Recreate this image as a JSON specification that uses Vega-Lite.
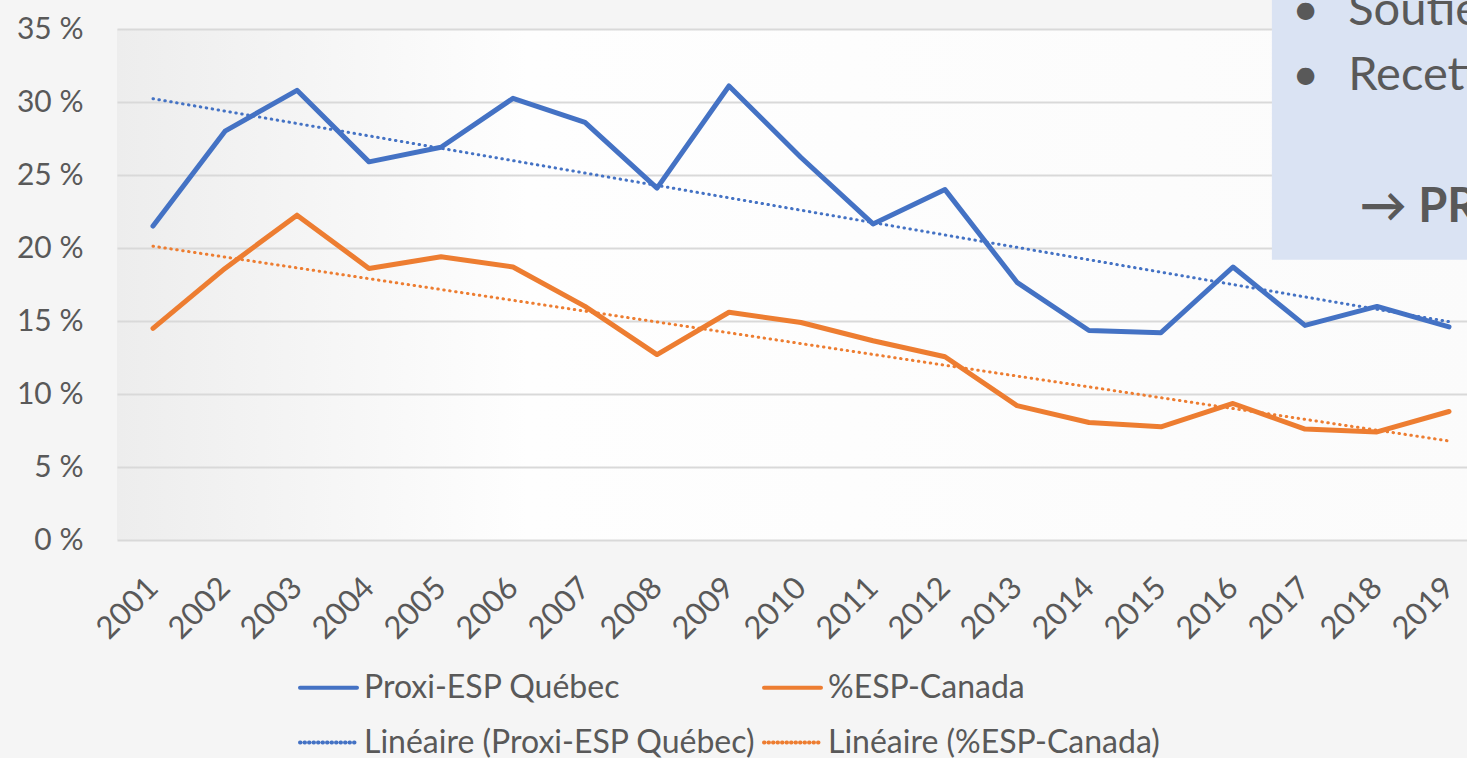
{
  "$schema": "https://vega.github.io/schema/vega-lite/v6.json",
  "width": 1368,
  "height": 511,
  "autosize": {"type": "none"},
  "padding": {"left": 117, "top": 29, "right": 0, "bottom": 218},
  "background": "#f5f5f5",
  "config": {
    "font": "Lato",
    "view": {
      "stroke": null,
      "fill": {"gradient": "linear", "x1": 0, "y1": 0, "x2": 1, "y2": 0, "stops": [{"offset": 0, "color": "#ededed"}, {"offset": 0.3, "color": "#fefefe"}, {"offset": 1, "color": "#fbfbfb"}]}
    }
  },
  "datasets": {
    "series": [
      {"year": 2001, "series": "Proxi-ESP Québec", "trend": "Linéaire (Proxi-ESP Québec)", "value": 21.5},
      {"year": 2002, "series": "Proxi-ESP Québec", "trend": "Linéaire (Proxi-ESP Québec)", "value": 28.0},
      {"year": 2003, "series": "Proxi-ESP Québec", "trend": "Linéaire (Proxi-ESP Québec)", "value": 30.8},
      {"year": 2004, "series": "Proxi-ESP Québec", "trend": "Linéaire (Proxi-ESP Québec)", "value": 25.9},
      {"year": 2005, "series": "Proxi-ESP Québec", "trend": "Linéaire (Proxi-ESP Québec)", "value": 26.9},
      {"year": 2006, "series": "Proxi-ESP Québec", "trend": "Linéaire (Proxi-ESP Québec)", "value": 30.25},
      {"year": 2007, "series": "Proxi-ESP Québec", "trend": "Linéaire (Proxi-ESP Québec)", "value": 28.6},
      {"year": 2008, "series": "Proxi-ESP Québec", "trend": "Linéaire (Proxi-ESP Québec)", "value": 24.1},
      {"year": 2009, "series": "Proxi-ESP Québec", "trend": "Linéaire (Proxi-ESP Québec)", "value": 31.1},
      {"year": 2010, "series": "Proxi-ESP Québec", "trend": "Linéaire (Proxi-ESP Québec)", "value": 26.2},
      {"year": 2011, "series": "Proxi-ESP Québec", "trend": "Linéaire (Proxi-ESP Québec)", "value": 21.65},
      {"year": 2012, "series": "Proxi-ESP Québec", "trend": "Linéaire (Proxi-ESP Québec)", "value": 24.0},
      {"year": 2013, "series": "Proxi-ESP Québec", "trend": "Linéaire (Proxi-ESP Québec)", "value": 17.65},
      {"year": 2014, "series": "Proxi-ESP Québec", "trend": "Linéaire (Proxi-ESP Québec)", "value": 14.35},
      {"year": 2015, "series": "Proxi-ESP Québec", "trend": "Linéaire (Proxi-ESP Québec)", "value": 14.2},
      {"year": 2016, "series": "Proxi-ESP Québec", "trend": "Linéaire (Proxi-ESP Québec)", "value": 18.7},
      {"year": 2017, "series": "Proxi-ESP Québec", "trend": "Linéaire (Proxi-ESP Québec)", "value": 14.7},
      {"year": 2018, "series": "Proxi-ESP Québec", "trend": "Linéaire (Proxi-ESP Québec)", "value": 16.0},
      {"year": 2019, "series": "Proxi-ESP Québec", "trend": "Linéaire (Proxi-ESP Québec)", "value": 14.6},
      {"year": 2001, "series": "%ESP-Canada", "trend": "Linéaire (%ESP-Canada)", "value": 14.5},
      {"year": 2002, "series": "%ESP-Canada", "trend": "Linéaire (%ESP-Canada)", "value": 18.6},
      {"year": 2003, "series": "%ESP-Canada", "trend": "Linéaire (%ESP-Canada)", "value": 22.25},
      {"year": 2004, "series": "%ESP-Canada", "trend": "Linéaire (%ESP-Canada)", "value": 18.6},
      {"year": 2005, "series": "%ESP-Canada", "trend": "Linéaire (%ESP-Canada)", "value": 19.4},
      {"year": 2006, "series": "%ESP-Canada", "trend": "Linéaire (%ESP-Canada)", "value": 18.7},
      {"year": 2007, "series": "%ESP-Canada", "trend": "Linéaire (%ESP-Canada)", "value": 16.0},
      {"year": 2008, "series": "%ESP-Canada", "trend": "Linéaire (%ESP-Canada)", "value": 12.7},
      {"year": 2009, "series": "%ESP-Canada", "trend": "Linéaire (%ESP-Canada)", "value": 15.6},
      {"year": 2010, "series": "%ESP-Canada", "trend": "Linéaire (%ESP-Canada)", "value": 14.9},
      {"year": 2011, "series": "%ESP-Canada", "trend": "Linéaire (%ESP-Canada)", "value": 13.65},
      {"year": 2012, "series": "%ESP-Canada", "trend": "Linéaire (%ESP-Canada)", "value": 12.55},
      {"year": 2013, "series": "%ESP-Canada", "trend": "Linéaire (%ESP-Canada)", "value": 9.2},
      {"year": 2014, "series": "%ESP-Canada", "trend": "Linéaire (%ESP-Canada)", "value": 8.05},
      {"year": 2015, "series": "%ESP-Canada", "trend": "Linéaire (%ESP-Canada)", "value": 7.75},
      {"year": 2016, "series": "%ESP-Canada", "trend": "Linéaire (%ESP-Canada)", "value": 9.35},
      {"year": 2017, "series": "%ESP-Canada", "trend": "Linéaire (%ESP-Canada)", "value": 7.6},
      {"year": 2018, "series": "%ESP-Canada", "trend": "Linéaire (%ESP-Canada)", "value": 7.4},
      {"year": 2019, "series": "%ESP-Canada", "trend": "Linéaire (%ESP-Canada)", "value": 8.8}
    ],
    "box": [{"x1": 2016.54, "x2": 2021, "y1": 19.2, "y2": 37.5}],
    "notes": [
      {"year": 2016.82, "value": 35.27, "label": "•"},
      {"year": 2017.6, "value": 35.27, "label": "Soutien"},
      {"year": 2016.82, "value": 30.82, "label": "•"},
      {"year": 2017.6, "value": 30.82, "label": "Recettes"}
    ],
    "emph": [
      {"year": 2017.76, "value": 21.78, "label": "→ PR"}
    ]
  },
  "layer": [
    {
      "data": {"name": "series"},
      "mark": {"type": "line", "strokeWidth": 5, "strokeJoin": "round", "strokeCap": "round"},
      "encoding": {
        "x": {
          "field": "year", "type": "quantitative", "title": null,
          "scale": {"domain": [2000.5, 2019.5], "nice": false, "zero": false},
          "axis": {"values": [2001, 2002, 2003, 2004, 2005, 2006, 2007, 2008, 2009, 2010, 2011, 2012, 2013, 2014, 2015, 2016, 2017, 2018, 2019], "format": "d", "labelAngle": -45, "labelAlign": "right", "labelBaseline": "middle", "labelPadding": 43, "ticks": false, "domain": false, "grid": false, "title": null, "labelFontSize": 31, "labelColor": "#595959", "labelFont": "Lato", "labelFlush": false, "labelOverlap": false, "labelBound": false}
        },
        "y": {
          "field": "value", "type": "quantitative", "title": null,
          "scale": {"domain": [0, 35], "nice": false},
          "axis": {"values": [0, 5, 10, 15, 20, 25, 30, 35], "labelExpr": "datum.value + ' %'", "title": null, "domain": false, "ticks": false, "labelPadding": 34, "labelFontSize": 30, "labelColor": "#595959", "labelFont": "Lato", "gridColor": "#d9d9d9", "gridWidth": 2}
        },
        "color": {
          "field": "series", "type": "nominal", "title": null,
          "scale": {"domain": ["Proxi-ESP Québec", "Linéaire (Proxi-ESP Québec)", "%ESP-Canada", "Linéaire (%ESP-Canada)"], "range": ["#4472c4", "#4472c4", "#ed7d31", "#ed7d31"]},
          "legend": {"title": null, "orient": "none", "legendX": 181, "legendY": 628, "columns": 2, "symbolType": "stroke", "symbolSize": 3249, "symbolStrokeWidth": 4, "labelFont": "Lato", "labelFontSize": 32, "labelColor": "#595959", "labelOffset": 5, "columnPadding": 0, "rowPadding": 8, "labelLimit": 0,
            "encode": {"symbols": {"update": {"strokeDash": {"signal": "indexof(datum.value, 'Lin') == 0 ? [0.5, 4] : [1, 0]"}, "strokeCap": {"value": "round"}}}}}
        }
      }
    },
    {
      "data": {"name": "series"},
      "transform": [{"regression": "value", "on": "year", "groupby": ["trend"], "extent": [2001, 2019]}],
      "mark": {"type": "line", "strokeWidth": 3, "strokeDash": [0.5, 5.5], "strokeCap": "round"},
      "encoding": {
        "x": {"field": "year", "type": "quantitative", "title": null},
        "y": {"field": "value", "type": "quantitative", "title": null},
        "color": {"field": "trend", "type": "nominal", "title": null}
      }
    },
    {
      "data": {"name": "box"},
      "mark": {"type": "rect", "fill": "#dae3f3", "clip": false},
      "encoding": {
        "x": {"field": "x1", "type": "quantitative", "title": null},
        "x2": {"field": "x2"},
        "y": {"field": "y1", "type": "quantitative", "title": null},
        "y2": {"field": "y2"}
      }
    },
    {
      "data": {"name": "notes"},
      "mark": {"type": "text", "align": "left", "baseline": "alphabetic", "fontSize": 47, "color": "#595959", "font": "Lato"},
      "encoding": {
        "x": {"field": "year", "type": "quantitative", "title": null},
        "y": {"field": "value", "type": "quantitative", "title": null},
        "text": {"field": "label"}
      }
    },
    {
      "data": {"name": "emph"},
      "mark": {"type": "text", "align": "left", "baseline": "alphabetic", "fontSize": 47, "fontWeight": "bold", "color": "#595959", "font": "Lato"},
      "encoding": {
        "x": {"field": "year", "type": "quantitative", "title": null},
        "y": {"field": "value", "type": "quantitative", "title": null},
        "text": {"field": "label"}
      }
    }
  ]
}
